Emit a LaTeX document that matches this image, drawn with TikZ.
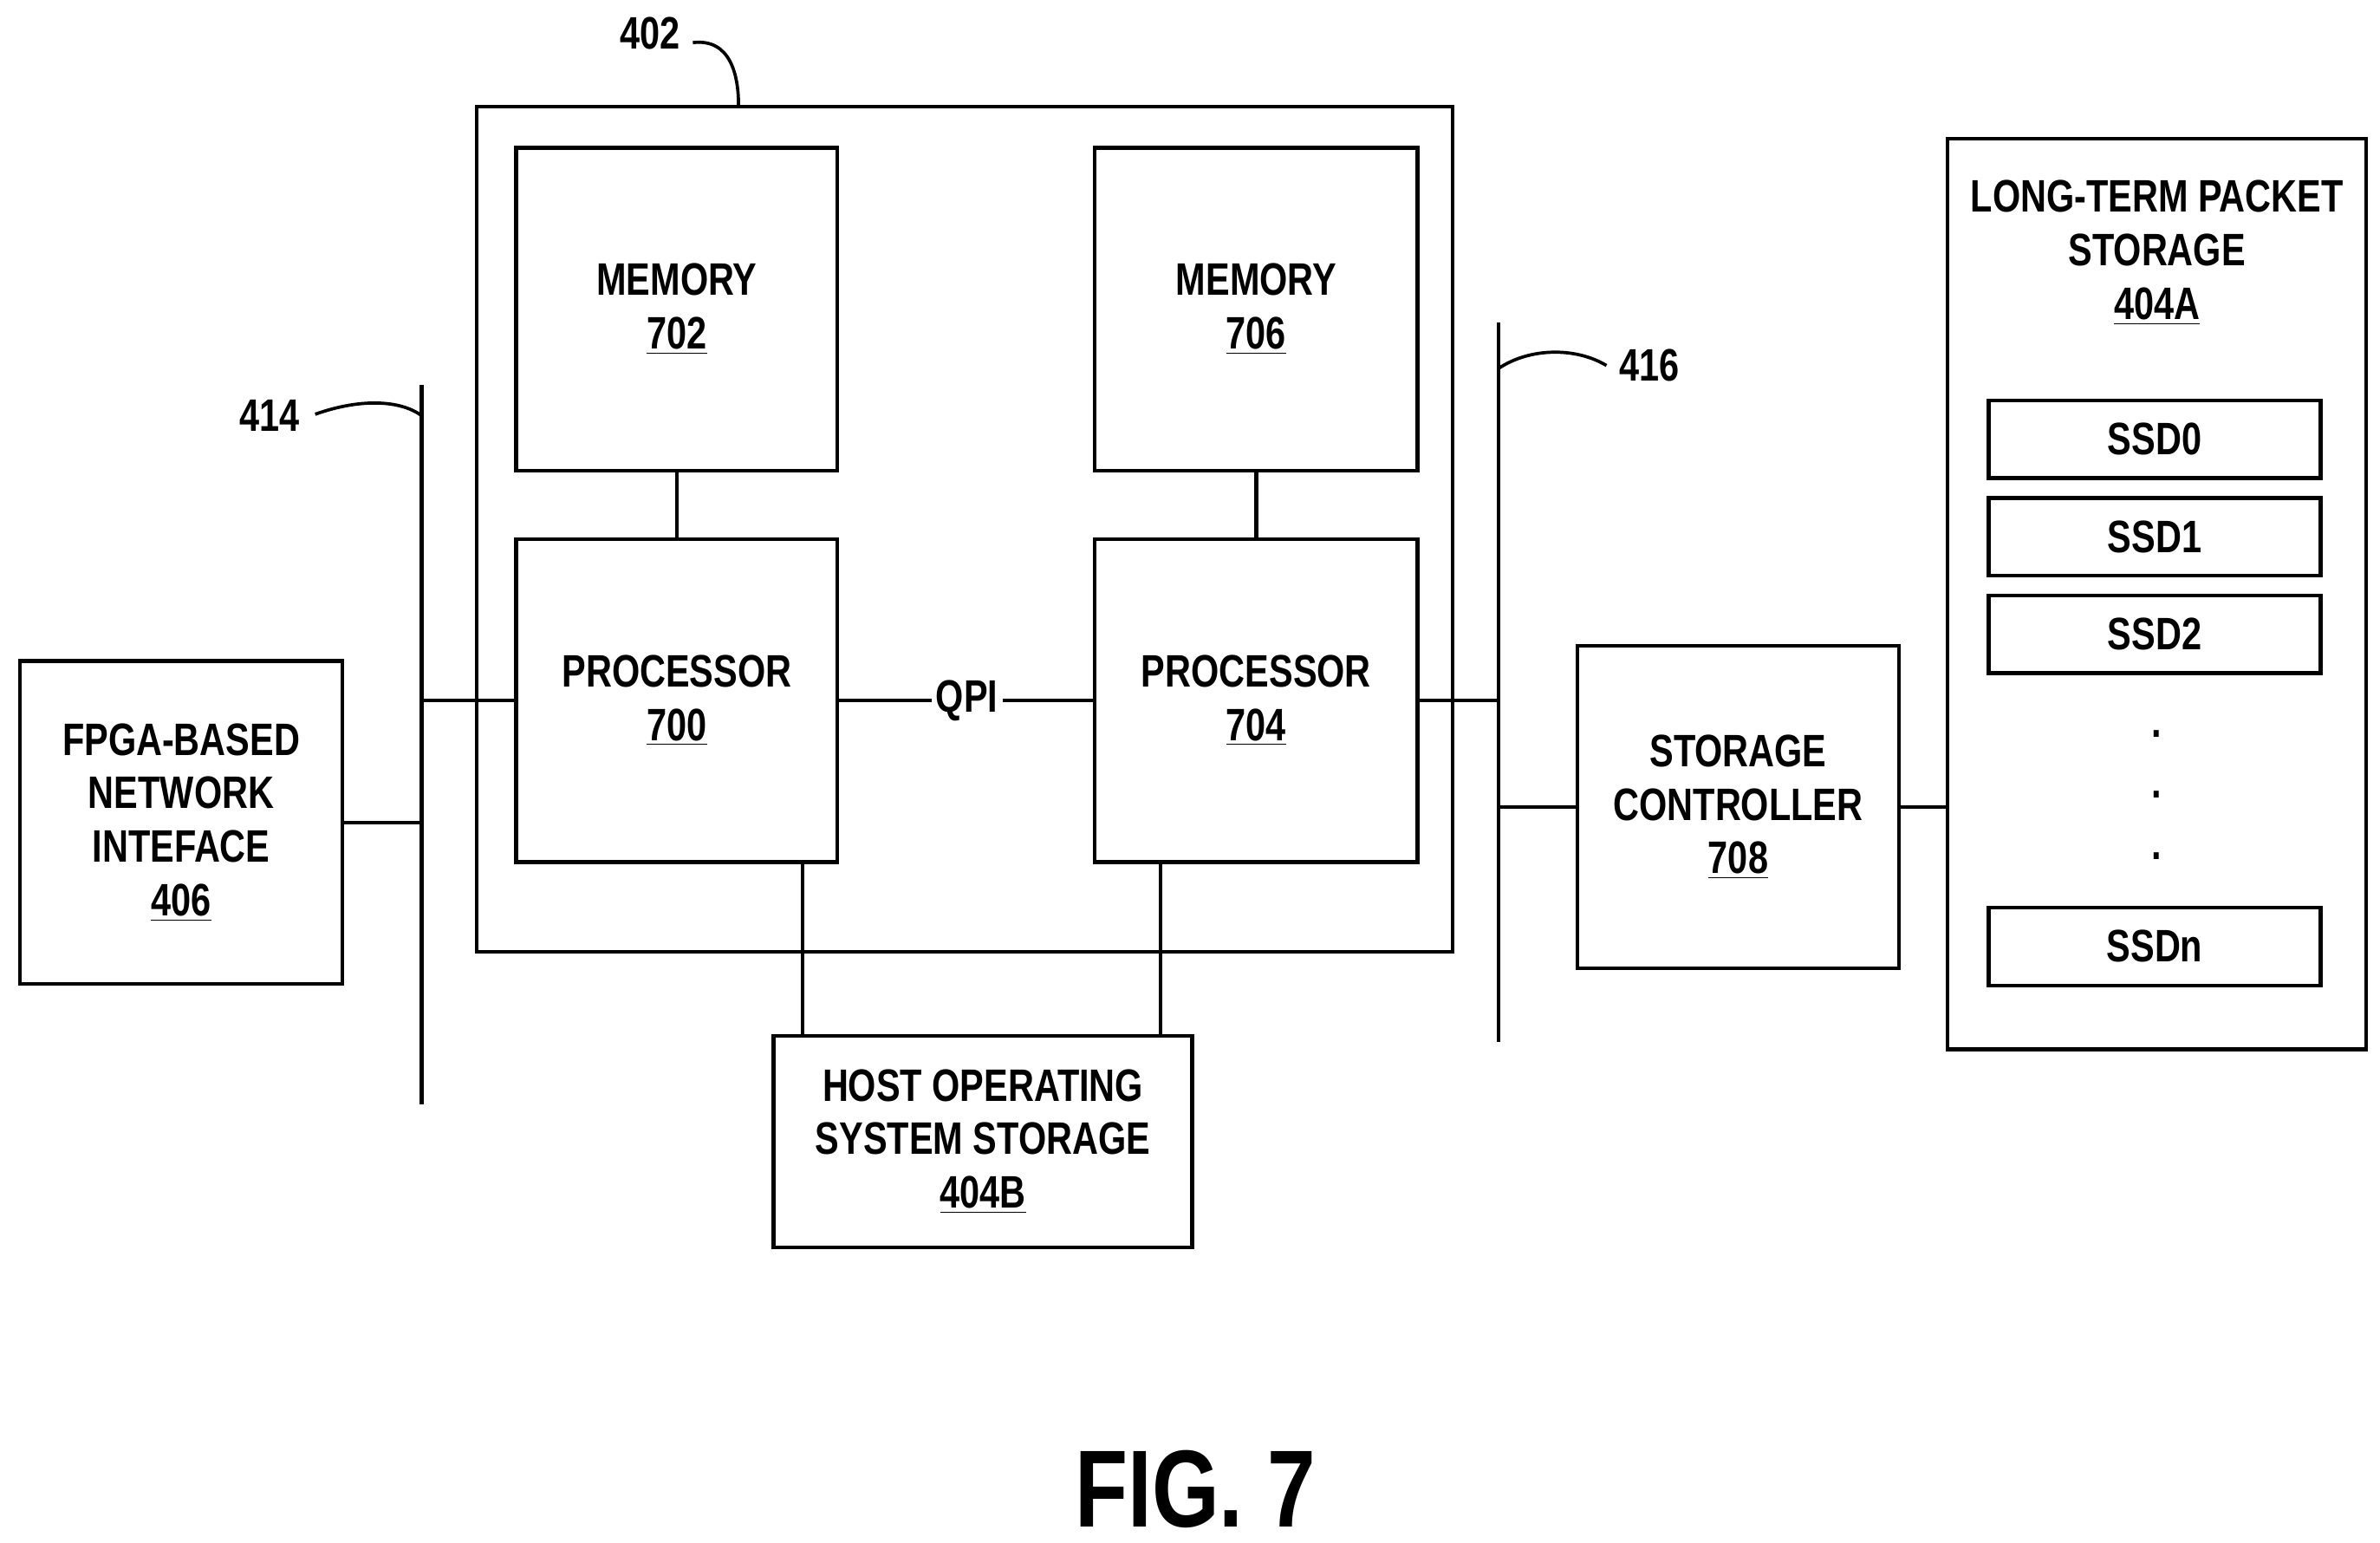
\documentclass[tikz,border=0pt]{standalone}
\usepackage{fontspec}
\setmainfont{Liberation Sans}[FakeStretch=0.79]
\begin{document}
\begin{tikzpicture}[x=0.02cm,y=-0.02cm,line width=1.4pt,
  box/.style={draw,align=center,font=\bfseries\fontsize{17}{20}\selectfont,inner sep=0pt},
  lbl/.style={font=\bfseries\fontsize{17}{20}\selectfont}]
\useasboundingbox (0,0) rectangle (1563,1013);
\node[draw,minimum width=12.82cm,minimum height=11.1cm,inner sep=0pt] (host402) at (633.5,347.5) {};
\node[box,minimum width=4.22cm,minimum height=4.24cm] (m702) at (444.5,203) {MEMORY\\\underline{702}};
\node[box,minimum width=4.22cm,minimum height=4.24cm] (p700) at (444.5,460) {PROCESSOR\\\underline{700}};
\node[box,minimum width=4.24cm,minimum height=4.24cm] (m706) at (825,203) {MEMORY\\\underline{706}};
\node[box,minimum width=4.24cm,minimum height=4.24cm] (p704) at (825,460) {PROCESSOR\\\underline{704}};
\node[box,minimum width=4.24cm,minimum height=4.24cm] (fpga) at (119,540) {FPGA-BASED\\NETWORK\\INTEFACE\\\underline{406}};
\node[box,minimum width=4.22cm,minimum height=4.24cm] (sc) at (1141.5,530) {STORAGE\\CONTROLLER\\\underline{708}};
\node[draw,minimum width=5.5cm,minimum height=11.96cm,inner sep=0pt] (lt) at (1416.5,390) {};
\node[lbl,align=center] (ltl) at (1416.5,166) {LONG-TERM PACKET\\STORAGE\\\underline{404A}};
\foreach \n/\y in {0/288.5,1/352.5,2/416.5,n/621.5}
  \node[box,minimum width=4.36cm,minimum height=1.02cm] (ssd\n) at (1415,\y) {SSD\n};
\foreach \y/\k in {487/a,527/b,567/c} \node[lbl] (dot\k) at (1416,\y-5) {.};
\node[box,minimum width=5.5cm,minimum height=2.78cm] (hos) at (645.5,749.5) {HOST OPERATING\\SYSTEM STORAGE\\\underline{404B}};
% buses
\coordinate (b1t) at (277,253); \coordinate (b1b) at (277,725);
\coordinate (b2t) at (984,212); \coordinate (b2b) at (984,684);
\draw (b1t) -- (b1b); \draw (b2t) -- (b2b);
\draw (m702) -- (p700); \draw (m706) -- (p704);
\draw (fpga.east) -- (fpga.east -| b1t);
\draw (p700.west) -- (p700.west -| b1t);
\node[lbl,fill=white,inner sep=1pt] (qpi) at (635,460) {QPI};
\draw (p700.east) -- (qpi.west); \draw (qpi.east) -- (p704.west);
\draw (p704.east) -- (p704.east -| b2t);
\draw (sc.west) -- (sc.west -| b2t);
\draw (sc.east) -- (sc.east -| lt.west);
\coordinate (c1) at (527,567); \coordinate (c2) at (762,567);
\draw (c1) -- (c1 |- hos.north); \draw (c2) -- (c2 |- hos.north);
% reference labels
\node[lbl] (r402) at (427,22) {402};
\draw[line width=1.2pt] (455,28) .. controls (480,25) and (485,50) .. (485,69);
\node[lbl] (r414) at (177,273) {414};
\draw[line width=1.2pt] (207,272) .. controls (235,262) and (262,262) .. (277,273);
\node[lbl] (r416) at (1083,240) {416};
\draw[line width=1.2pt] (984,242) .. controls (1005,228) and (1035,228) .. (1055,240);
\node[font=\bfseries\fontsize{41}{46}\selectfont,inner sep=0pt] (fig) at (785,978) {FIG. 7};
\end{tikzpicture}
\end{document}
